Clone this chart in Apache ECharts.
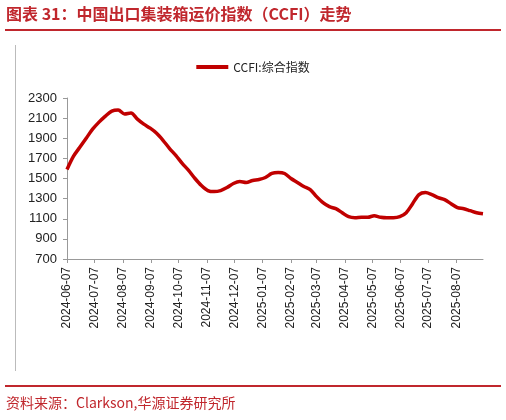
<!DOCTYPE html>
<html>
<head>
<meta charset="utf-8">
<script src="https://cdn.jsdelivr.net/npm/echarts@6/dist/echarts.min.js"></script>
<style>
body { margin: 0; background: #fff; }
#chart { width: 506px; height: 420px; }
</style>
</head>
<body>
<div id="chart"></div>
<script>
// weekly CCFI composite, starting 2024-06-07
let startDate = '2024-06-07';
let endDate = '2025-09-05';
let weeklyValues = [
  1590, 1720, 1810, 1900, 1990, 2060, 2120, 2170, 2180, 2140, 2150, 2090,
  2040, 2000, 1950, 1880, 1800, 1730, 1650, 1580, 1500, 1430, 1380, 1370,
  1380, 1410, 1450, 1470, 1460, 1480, 1490, 1510, 1550, 1560, 1550, 1500,
  1460, 1420, 1390, 1320, 1260, 1220, 1200, 1160, 1120, 1110, 1115, 1115,
  1130, 1115, 1110, 1110, 1120, 1160, 1250, 1340, 1360, 1340, 1310, 1290,
  1250, 1210, 1200, 1180, 1160, 1150
];
let yTicks = [700, 900, 1100, 1300, 1500, 1700, 1900, 2100, 2300];

function fmt(d) {
  let m = String(d.getUTCMonth() + 1).padStart(2, '0');
  let day = String(d.getUTCDate()).padStart(2, '0');
  return d.getUTCFullYear() + '-' + m + '-' + day;
}

let days = [];
let values = [];
let t0 = Date.parse(startDate + 'T00:00:00Z');
let t1 = Date.parse(endDate + 'T00:00:00Z');
for (let t = t0, i = 0; t <= t1; t += 86400000, i++) {
  days.push(fmt(new Date(t)));
  values.push(i % 7 === 0 ? weeklyValues[i / 7] : null);
}

function isSeventh(idx) {
  return days[idx].slice(8) === '07';
}

var myChart = echarts.init(document.getElementById('chart'));

option = {
  animation: false,
  graphic: [
    { type: 'text', left: 6, top: 6, style: { text: '图表 31：中国出口集装箱运价指数（CCFI）走势', fill: '#c0272d', font: 'bold 16px "Noto Sans CJK SC"' } },
    { type: 'rect', shape: { x: 5, y: 29, width: 496, height: 2 }, style: { fill: '#c0272d' } },
    { type: 'rect', shape: { x: 15, y: 45, width: 1, height: 326 }, style: { fill: '#bbbbbb' } },
    { type: 'rect', shape: { x: 5, y: 385, width: 496, height: 2 }, style: { fill: '#c0272d' } },
    { type: 'text', left: 6, top: 396, style: { text: '资料来源：Clarkson,华源证券研究所', fill: '#c0272d', font: '14px "Noto Sans CJK SC"' } }
  ],
  legend: {
    top: 56,
    left: 'center',
    itemWidth: 32,
    itemHeight: 4,
    icon: 'rect',
    textStyle: { fontFamily: '"Noto Sans CJK SC"', fontSize: 12, color: '#222' },
    data: ['CCFI:综合指数']
  },
  grid: { left: 67, right: 23, top: 98, bottom: 161 },
  xAxis: {
    type: 'category',
    data: days,
    boundaryGap: false,
    axisLine: { lineStyle: { color: '#999' } },
    axisTick: { interval: isSeventh, length: 4, lineStyle: { color: '#999' } },
    axisLabel: {
      interval: isSeventh,
      rotate: 90,
      color: '#222',
      fontFamily: 'Liberation Sans',
      fontSize: 12
    }
  },
  yAxis: {
    type: 'value',
    min: yTicks[0],
    max: yTicks[yTicks.length - 1],
    interval: 200,
    axisLine: { show: true, lineStyle: { color: '#999' } },
    axisTick: { show: true, length: 4, lineStyle: { color: '#999' } },
    splitLine: { show: false },
    axisLabel: {
      color: '#222',
      fontFamily: 'Liberation Sans',
      fontSize: 13,
      margin: 10,
      formatter: function (v) { return String(v); }
    }
  },
  series: [
    {
      name: 'CCFI:综合指数',
      type: 'line',
      data: values,
      connectNulls: true,
      smooth: 0.3,
      showSymbol: false,
      symbol: 'none',
      itemStyle: { color: '#c00000' },
      lineStyle: { color: '#c00000', width: 3.5 }
    }
  ]
};

myChart.setOption(option);
</script>
</body>
</html>
